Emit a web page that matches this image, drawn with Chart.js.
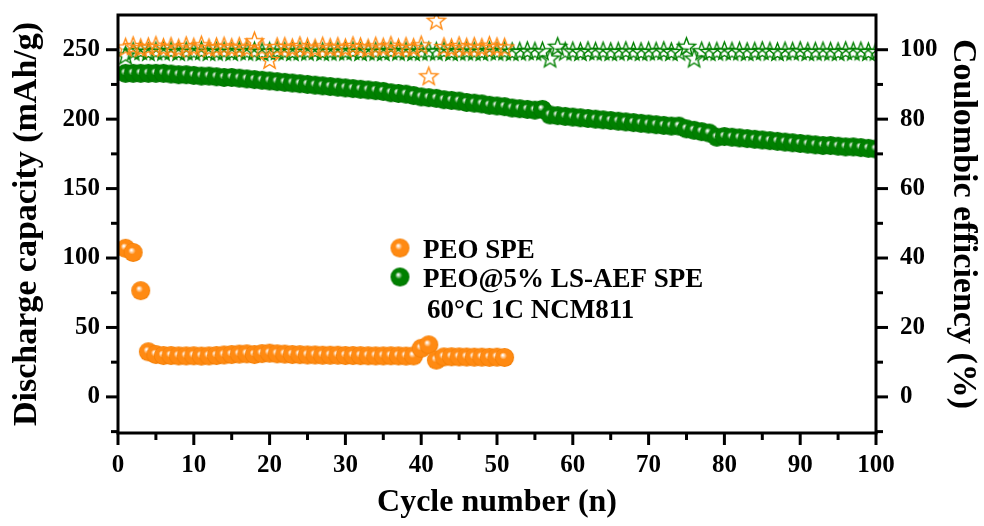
<!DOCTYPE html>
<html>
<head>
<meta charset="utf-8">
<script src="https://cdn.jsdelivr.net/npm/chart.js@4.4.1/dist/chart.umd.min.js"></script>
<style>
  html, body { margin: 0; padding: 0; background: #fff; }
  #wrap { width: 984px; height: 526px; }
</style>
</head>
<body>
<div id="wrap"><canvas id="cycleChart"></canvas></div>
<script>
// discharge capacity (mAh/g) per cycle
const peoCapacity = [
  107, 104, 76.5, 32.5, 30.5, 29.8, 29.8, 29.5, 29.5, 29.6,
  29.4, 29.5, 29.8, 30.2, 30.5, 30.8, 31, 30.5, 31.2, 31.5,
  31, 30.8, 30.5, 30.4, 30.2, 30.2, 30, 30, 30, 29.8,
  29.8, 29.7, 29.6, 29.5, 29.5, 29.6, 29.5, 29.4, 29.5, 35,
  37.5, 26.5, 28.8, 28.9, 28.8, 28.7, 28.6, 28.6, 28.5, 28.6,
  28.4,
];
const aefCapacity = [
  233, 233, 233, 233, 233, 233, 232.5, 232, 232, 231.5,
  231, 231, 230.5, 230, 230, 229.5, 229, 228.5, 228, 227.5,
  227, 226.5, 226, 225.5, 225, 224.5, 224, 223.5, 223, 222.5,
  222, 221.5, 221, 220.5, 220, 219, 218.5, 218, 217, 216,
  215.5, 215, 214, 213.5, 213, 212, 211.5, 211, 210, 209.5,
  209, 208, 207.5, 207, 206.5, 207, 203, 202.5, 202, 201.5,
  201, 200.5, 200, 199.5, 199, 198.5, 198, 197.5, 197, 196.5,
  196, 195.5, 195, 195, 193, 192, 191, 190, 187, 187.5,
  187, 186.5, 186, 185.5, 185, 184.5, 184, 183.5, 183, 182.5,
  182, 181.5, 181, 181, 180.5, 180, 180, 179.5, 179, 178.5,
];

// coulombic efficiency (%) per cycle
const peoEfficiency = [
  100.8, 101.2, 100.6, 100.9, 101.3, 100.7, 101.0, 100.5, 101.2, 100.8,
  101.4, 100.6, 100.9, 101.1, 100.7, 101.0, 100.6, 102.6, 100.8, 97.2,
  100.9, 101.0, 100.6, 101.2, 100.8, 100.5, 101.1, 100.7, 101.0, 100.6,
  101.2, 100.9, 100.5, 101.1, 100.8, 101.3, 100.6, 101.0, 100.7, 101.4,
  92.5, 108.5, 100.9, 100.6, 101.2, 100.8, 101.0, 100.7, 101.3, 100.9,
  100.8,
];
const aefEfficiency = [
  98.5, 99.6, 99.8, 99.5, 99.7, 99.6, 99.8, 99.5, 99.7, 99.6,
  99.8, 99.5, 99.6, 99.7, 99.5, 99.8, 99.6, 99.7, 99.5, 99.6,
  99.8, 99.6, 99.5, 99.7, 99.6, 99.8, 99.5, 99.6, 99.7, 99.6,
  99.8, 99.5, 99.7, 99.6, 99.5, 99.8, 99.6, 99.7, 99.5, 99.6,
  99.7, 99.6, 99.8, 99.5, 99.6, 99.7, 99.6, 99.5, 99.8, 99.6,
  99.7, 99.5, 99.6, 99.8, 99.6, 99.7, 97.6, 101.0, 99.6, 99.7,
  99.5, 99.8, 99.6, 99.7, 99.5, 99.6, 99.8, 99.6, 99.5, 99.7,
  99.6, 99.8, 99.5, 99.6, 101.0, 97.6, 99.7, 99.5, 99.6, 99.8,
  99.6, 99.7, 99.5, 99.6, 99.8, 99.6, 99.5, 99.7, 99.6, 99.8,
  99.5, 99.6, 99.7, 99.6, 99.5, 99.8, 99.6, 99.7, 99.5, 99.6,
];

const capacityTicks = [0, 50, 100, 150, 200, 250];
const efficiencyTicks = [0, 20, 40, 60, 80, 100];
const cycleTicks = [0, 10, 20, 30, 40, 50, 60, 70, 80, 90, 100];

const legendLabels = ["PEO SPE", "PEO@5% LS-AEF SPE", "60°C 1C NCM811"];

const colors = {
  orange: "#FF8A12",
  orangeEdge: "#EE7A00",
  green: "#008000",
  greenEdge: "#006E00",
};

const serif = '"Liberation Serif", "Times New Roman", "DejaVu Serif", serif';

function makeBall(fill, edge, r) {
  const size = Math.ceil(r * 2 + 2);
  const c = document.createElement("canvas");
  c.width = size;
  c.height = size;
  const g = c.getContext("2d");
  const cx = size / 2;
  const cy = size / 2;
  const grad = g.createRadialGradient(cx - r * 0.2, cy - r * 0.25, r * 0.05, cx, cy, r);
  grad.addColorStop(0, "#ffffff");
  grad.addColorStop(0.35, fill);
  grad.addColorStop(0.85, fill);
  grad.addColorStop(1, edge);
  g.fillStyle = grad;
  g.beginPath();
  g.arc(cx, cy, r, 0, Math.PI * 2);
  g.fill();
  return c;
}

function makeStar(stroke, r) {
  const size = Math.ceil(r * 2 + 4);
  const c = document.createElement("canvas");
  c.width = size;
  c.height = size;
  const g = c.getContext("2d");
  const cx = size / 2;
  const cy = size / 2 + 1;
  g.strokeStyle = stroke;
  g.lineWidth = 1.4;
  g.lineJoin = "miter";
  g.beginPath();
  for (let i = 0; i < 10; i++) {
    const rad = i % 2 ? r * 0.42 : r;
    const a = -Math.PI / 2 + (i * Math.PI) / 5;
    g.lineTo(cx + rad * Math.cos(a), cy + rad * Math.sin(a));
  }
  g.closePath();
  g.stroke();
  return c;
}

const orangeBall = makeBall(colors.orange, colors.orangeEdge, 9.5);
const greenBall = makeBall(colors.green, colors.greenEdge, 9.5);
const orangeStar = makeStar(colors.orange, 9.5);
const greenStar = makeStar(colors.green, 9.5);

const toPoints = (values) => values.map((v, i) => ({ x: i + 1, y: v }));

// frame, tick marks and the in-plot legend
const framePlugin = {
  id: "frame",
  afterDatasetsDraw(chart) {
    const { ctx, chartArea: a, scales } = chart;
    ctx.save();
    ctx.strokeStyle = "#000";
    ctx.lineWidth = 3;
    ctx.strokeRect(a.left, a.top, a.right - a.left, a.bottom - a.top);

    const line = (x1, y1, x2, y2) => {
      ctx.beginPath();
      ctx.moveTo(x1, y1);
      ctx.lineTo(x2, y2);
      ctx.stroke();
    };
    scales.x.ticks.forEach((t) => {
      const px = scales.x.getPixelForValue(t.value);
      const len = cycleTicks.includes(t.value) ? 12 : 7;
      line(px, a.bottom, px, a.bottom + len);
    });
    scales.y.ticks.forEach((t) => {
      if (t.value >= 275) return;
      const py = scales.y.getPixelForValue(t.value);
      const len = capacityTicks.includes(t.value) ? 12 : 7;
      line(a.left - len, py, a.left, py);
    });
    scales.y1.ticks.forEach((t) => {
      if (t.value >= 110) return;
      const py = scales.y1.getPixelForValue(t.value);
      const len = efficiencyTicks.includes(t.value) ? 12 : 7;
      line(a.right, py, a.right + len, py);
    });

    ctx.drawImage(orangeBall, 400 - orangeBall.width / 2, 248 - orangeBall.height / 2);
    ctx.drawImage(greenBall, 400 - greenBall.width / 2, 277 - greenBall.height / 2);
    ctx.fillStyle = "#000";
    ctx.font = "bold 27px " + serif;
    ctx.textBaseline = "alphabetic";
    ctx.fillText(legendLabels[0], 423, 258);
    ctx.fillText(legendLabels[1], 423, 287);
    ctx.fillText(legendLabels[2], 427, 318);
    ctx.restore();
  },
};

const tickFont = { family: serif, size: 25, weight: "bold" };
const titleFont = { family: serif, size: 34, weight: "bold", lineHeight: 1 };

const noEdgePadding = (scale) => {
  scale.paddingTop = 0;
  scale.paddingBottom = 0;
  scale.paddingLeft = 0;
  scale.paddingRight = 0;
};

new Chart(document.getElementById("cycleChart"), {
  type: "line",
  data: {
    datasets: [
      {
        label: "PEO SPE CE",
        data: toPoints(peoEfficiency),
        yAxisID: "y1",
        showLine: false,
        pointStyle: orangeStar,
      },
      {
        label: "PEO@5% LS-AEF SPE CE",
        data: toPoints(aefEfficiency),
        yAxisID: "y1",
        showLine: false,
        pointStyle: greenStar,
      },
      {
        label: "PEO SPE",
        data: toPoints(peoCapacity),
        yAxisID: "y",
        showLine: false,
        pointStyle: orangeBall,
      },
      {
        label: "PEO@5% LS-AEF SPE",
        data: toPoints(aefCapacity),
        yAxisID: "y",
        showLine: false,
        pointStyle: greenBall,
      },
    ],
  },
  options: {
    responsive: true,
    maintainAspectRatio: false,
    animation: false,
    layout: { padding: { top: 15 } },
    plugins: {
      legend: { display: false },
      tooltip: { enabled: false },
    },
    scales: {
      x: {
        type: "linear",
        min: 0,
        max: 100,
        ticks: {
          stepSize: 5,
          autoSkip: false,
          maxRotation: 0,
          padding: 18,
          color: "#000",
          font: tickFont,
          callback: (v) => (cycleTicks.includes(v) ? v : ""),
        },
        grid: { display: false, drawTicks: false },
        border: { display: false },
        title: {
          display: true,
          text: "Cycle number (n)",
          color: "#000",
          font: { family: serif, size: 32, weight: "bold", lineHeight: 1 },
          padding: { top: 0, bottom: 7 },
        },
        afterFit: (scale) => {
          noEdgePadding(scale);
          scale.height = 93;
        },
      },
      y: {
        position: "left",
        min: -26,
        max: 275,
        afterBuildTicks: (scale) => {
          scale.ticks = [-25, 0, 25, 50, 75, 100, 125, 150, 175, 200, 225, 250, 275].map((v) => ({ value: v }));
        },
        ticks: {
          autoSkip: false,
          padding: 18,
          color: "#000",
          font: tickFont,
          callback: (v) => (capacityTicks.includes(v) ? v : ""),
        },
        grid: { display: false, drawTicks: false },
        border: { display: false },
        title: {
          display: true,
          text: "Discharge capacity (mAh/g)",
          color: "#000",
          font: titleFont,
          padding: { top: 10, bottom: 0 },
        },
        afterFit: (scale) => {
          noEdgePadding(scale);
          scale.width = 118;
        },
      },
      y1: {
        position: "right",
        min: -10.4,
        max: 110,
        afterBuildTicks: (scale) => {
          scale.ticks = [-10, 0, 10, 20, 30, 40, 50, 60, 70, 80, 90, 100, 110].map((v) => ({ value: v }));
        },
        ticks: {
          autoSkip: false,
          padding: 24,
          color: "#000",
          font: tickFont,
          callback: (v) => (efficiencyTicks.includes(v) ? v : ""),
        },
        grid: { display: false, drawTicks: false },
        border: { display: false },
        title: {
          display: true,
          text: "Coulombic efficiency (%)",
          color: "#000",
          font: titleFont,
          padding: { top: 4, bottom: 0 },
        },
        afterFit: (scale) => {
          noEdgePadding(scale);
          scale.width = 108;
        },
      },
    },
  },
  plugins: [framePlugin],
});
</script>
</body>
</html>
